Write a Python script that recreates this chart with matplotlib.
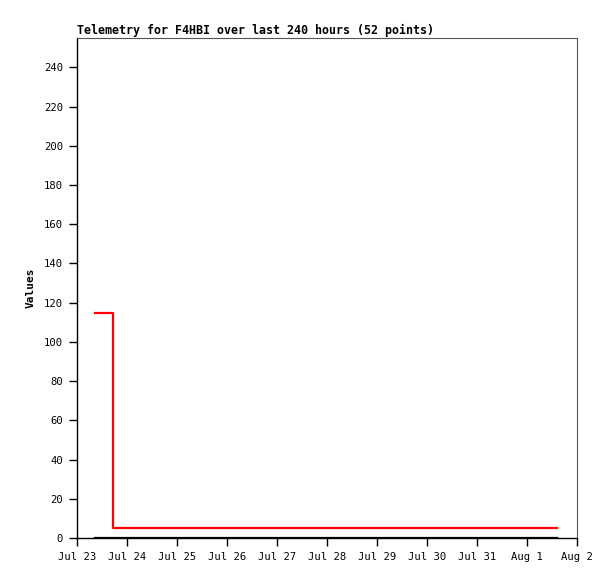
import matplotlib
matplotlib.use("Agg")
import matplotlib.pyplot as plt
from datetime import datetime, timedelta

# Data
red_times = [datetime(2023, 7, 23, 8, 40), datetime(2023, 7, 23, 17, 15), datetime(2023, 8, 1, 14, 25)]
red_values = [115, 5, 5]
black_times = [datetime(2023, 7, 23, 8, 40), datetime(2023, 8, 1, 14, 25)]
black_values = [0, 0]
x_start = datetime(2023, 7, 23)
x_labels = ["Jul 23", "Jul 24", "Jul 25", "Jul 26", "Jul 27", "Jul 28", "Jul 29", "Jul 30", "Jul 31", "Aug 1", "Aug 2"]
x_ticks = [x_start + timedelta(days=i) for i in range(len(x_labels))]
y_ticks = list(range(0, 241, 20))

plt.rcParams['font.family'] = ['DejaVu Sans Mono', 'Liberation Mono']

fig = plt.figure(figsize=(6.15, 5.79), dpi=100)
ax = fig.add_axes([77/615, 41/579, 500/615, 500/579])

ax.plot(black_times, black_values, color='black', lw=1.6, drawstyle='steps-post', zorder=3)
ax.plot(red_times, red_values, color='#ff0000', lw=1.6, drawstyle='steps-post', zorder=4)

ax.set_xlim(x_ticks[0], x_ticks[-1])
ax.set_ylim(0, 255)
ax.set_xticks(x_ticks)
ax.set_xticklabels(x_labels)
ax.set_yticks(y_ticks)
ax.tick_params(axis='both', direction='out', length=6, width=1, labelsize=7.6, pad=4)

for s in ['left', 'bottom']:
    ax.spines[s].set_color('black')
    ax.spines[s].set_linewidth(1)
for s in ['top', 'right']:
    ax.spines[s].set_color('#555555')
    ax.spines[s].set_linewidth(0.8)

ax.set_ylabel('Values', fontsize=8, fontweight='bold', labelpad=6)
ax.set_title('Telemetry for F4HBI over last 240 hours (52 points)', loc='left',
             fontsize=8.4, fontweight='bold', pad=3)

fig.savefig('out.png', dpi=100)
